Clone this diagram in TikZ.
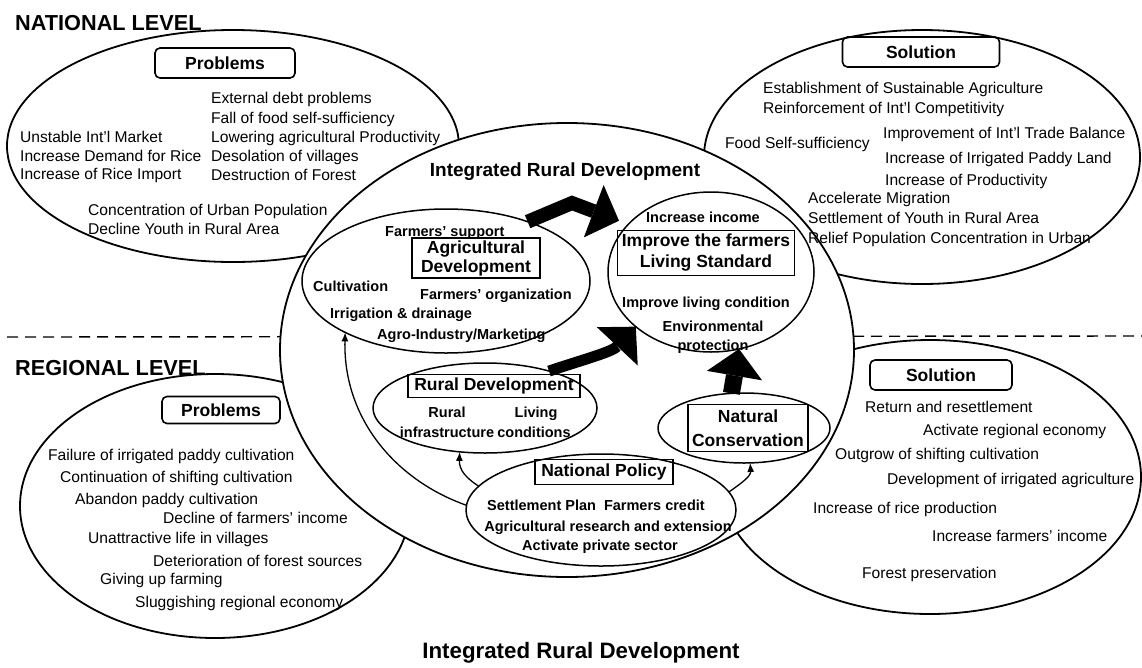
\documentclass[tikz,border=0pt]{standalone}
\usepackage{fontspec}
\setmainfont{Liberation Sans}
\usetikzlibrary{shapes.geometric,arrows.meta}
\newcommand\itemfont{\fontsize{15.6}{18}\selectfont}
\newcommand\midfont{\fontsize{14.5}{17}\selectfont\bfseries}
\newcommand\tagfont{\fontsize{17.5}{19}\selectfont\bfseries}
\newcommand\levelfont{\fontsize{21.7}{24}\selectfont\bfseries}
\newcommand\irdfont{\fontsize{19}{22}\selectfont\bfseries}
\newcommand\capfont{\fontsize{22.3}{25}\selectfont\bfseries}
\begin{document}
\begin{tikzpicture}[x=1pt,y=-1pt,
  bigell/.style={ellipse, draw, line width=1.8pt, inner sep=0pt, outer sep=0pt},
  innerell/.style={ellipse, draw, line width=1.5pt, inner sep=0pt, outer sep=0pt},
  tagbox/.style={draw, rounded corners=5pt, line width=1.6pt, font=\tagfont, inner sep=0pt, outer sep=0pt},
  sqbox/.style={draw, line width=1.5pt, font=\tagfont, inner sep=0pt, outer sep=0pt, align=center},
  item/.style={anchor=west, inner sep=0pt, font=\itemfont, text height=12pt, text depth=2pt},
  mid/.style={inner sep=0pt, font=\midfont, text height=10.5pt, text depth=2pt},
  midw/.style={mid, anchor=west},
  levelline/.style={line width=1.4pt, dash pattern=on 11pt off 7pt},
  thinarrow/.style={line width=1.3pt, -{Latex[length=9pt,width=7pt]}},
  blockarrow/.style={line width=#1, line join=miter, miter limit=20,
     -{Triangle[length=27pt,width=56pt,line width=0pt]}}
]
\fill[white] (0,0) rectangle (1142,667);
\useasboundingbox (0,0) rectangle (1142,667);

% ---- outer ellipses
\node[bigell, minimum width=452pt, minimum height=232pt] (natprob) at (233,146) {};
\node[bigell, minimum width=436pt, minimum height=254pt] (natsol) at (922,157) {};
\node[bigell, minimum width=390pt, minimum height=264pt] (regprob) at (215,506) {};
\node[bigell, minimum width=422pt, minimum height=274pt] (regsol) at (930,477) {};

% ---- level divider
\coordinate (divl) at (7,337);
\coordinate (divr) at (1142,336);
\draw[levelline] (divl) -- (divr);

% ---- central ellipse
\node[bigell, fill=white, minimum width=574pt, minimum height=454pt] (ird) at (567,350) {};

% ---- level titles
\node[anchor=west, inner sep=0pt, font=\levelfont] (natlev) at (15,23) {NATIONAL LEVEL};
\node[anchor=west, inner sep=0pt, font=\levelfont] (reglev) at (15,368) {REGIONAL LEVEL};
\node[inner sep=0pt, font=\irdfont] (irdtitle) at (565,172) {Integrated Rural Development};
\node[inner sep=0pt, font=\capfont] (caption) at (581,653) {Integrated Rural Development};

% ---- national problems
\node[tagbox, minimum width=140pt, minimum height=30pt] (npbox) at (225,63) {Problems};
\node[item] (np1) at (211,98) {External debt problems};
\node[item] (np2) at (211,118) {Fall of food self-sufficiency};
\node[item] (np3) at (211,137) {Lowering agricultural Productivity};
\node[item] (np4) at (211,156) {Desolation of villages};
\node[item] (np5) at (211,175) {Destruction of Forest};
\node[item] (np6) at (20,137) {Unstable Int'l Market};
\node[item] (np7) at (20,156) {Increase Demand for Rice};
\node[item] (np8) at (20,174) {Increase of Rice Import};
\node[item] (np9) at (88,210) {Concentration of Urban Population};
\node[item] (np10) at (88,229) {Decline Youth in Rural Area};

% ---- national solution
\node[tagbox, minimum width=157pt, minimum height=30pt] (nsbox) at (921,52) {Solution};
\node[item] (ns1) at (763,88) {Establishment of Sustainable Agriculture};
\node[item] (ns2) at (763,108) {Reinforcement of Int'l Competitivity};
\node[item] (ns3) at (883,133) {Improvement of Int'l Trade Balance};
\node[item] (ns4) at (725,143) {Food Self-sufficiency};
\node[item] (ns5) at (885,158) {Increase of Irrigated Paddy Land};
\node[item] (ns6) at (885,180) {Increase of Productivity};
\node[item] (ns7) at (808,198) {Accelerate Migration};
\node[item] (ns8) at (808,218) {Settlement of Youth in Rural Area};
\node[item] (ns9) at (808,238) {Relief Population Concentration in Urban};

% ---- regional problems
\node[tagbox, minimum width=118pt, minimum height=27pt] (rpbox) at (221,410) {Problems};
\node[item] (rp1) at (48,455) {Failure of irrigated paddy cultivation};
\node[item] (rp2) at (60,477) {Continuation of shifting cultivation};
\node[item] (rp3) at (75,499) {Abandon paddy cultivation};
\node[item] (rp4) at (163,518) {Decline of farmers' income};
\node[item] (rp5) at (88,538) {Unattractive life in villages};
\node[item] (rp6) at (153,561) {Deterioration of forest sources};
\node[item] (rp7) at (100,579) {Giving up farming};
\node[item] (rp8) at (135,602) {Sluggishing regional economy};

% ---- regional solution
\node[tagbox, minimum width=142pt, minimum height=30pt] (rsbox) at (941,375) {Solution};
\node[item] (rs1) at (865,407) {Return and resettlement};
\node[item] (rs2) at (923,430) {Activate regional economy};
\node[item] (rs3) at (835,454) {Outgrow of shifting cultivation};
\node[item] (rs4) at (887,479) {Development of irrigated agriculture};
\node[item] (rs5) at (813,508) {Increase of rice production};
\node[item] (rs6) at (932,536) {Increase farmers' income};
\node[item] (rs7) at (862,573) {Forest preservation};

% ---- inner ellipses
\node[innerell, minimum width=288pt, minimum height=144pt] (agri) at (446,281) {};
\node[innerell, minimum width=206pt, minimum height=160pt] (imp) at (711,272) {};
\node[innerell, minimum width=224pt, minimum height=90pt] (rural) at (485,408) {};
\node[innerell, minimum width=172pt, minimum height=70pt] (nat) at (744,428) {};
\node[innerell, minimum width=270pt, minimum height=112pt] (pol) at (601,510) {};

% agricultural development
\node[sqbox, minimum width=128pt, minimum height=40pt] (agbox) at (476,258) {Agricultural\\Development};
\node[midw] (ag1) at (385,232) {Farmers' support};
\node[midw] (ag2) at (313,287) {Cultivation};
\node[midw] (ag3) at (420,295) {Farmers' organization};
\node[midw] (ag4) at (330,314) {Irrigation \& drainage};
\node[midw] (ag5) at (377,335) {Agro-Industry/Marketing};

% improve living standard
\node[mid] (im1) at (703,218) {Increase income};
\node[sqbox, minimum width=177pt, minimum height=45pt] (impbox) at (706,253) {Improve the farmers\\[2pt]Living Standard};
\node[mid] (im2) at (706,303) {Improve living condition};
\node[mid] (im3) at (713,327) {Environmental};
\node[mid] (im4) at (713,346) {protection};

% rural development
\node[sqbox, minimum width=172pt, minimum height=23pt] (rubox) at (494,386) {Rural Development};
\node[mid] (ru1) at (447,413) {Rural};
\node[mid] (ru2) at (536,413) {Living};
\node[mid] (ru3) at (447,433) {infrastructure};
\node[mid] (ru4) at (534,433) {conditions};

% natural conservation
\node[sqbox, minimum width=120pt, minimum height=47pt] (natbox) at (748,428) {Natural\\[5pt]Conservation};

% national policy
\node[sqbox, minimum width=138pt, minimum height=25pt] (polbox) at (604,472) {National Policy};
\node[mid] (po1) at (596,506) {Settlement Plan\ \ Farmers credit};
\node[mid] (po2) at (608,527) {Agricultural research and extension};
\node[mid] (po3) at (600,546) {Activate private sector};

% ---- thin arrows from national policy
\draw[thinarrow] (pol.178) .. controls (395,480) and (343,418) .. (agri.207);
\draw[thinarrow] (pol.169) .. controls (466,478) and (459,470) .. (rural.240);
\draw[thinarrow] (pol.8) .. controls (743,482) and (751,476) .. (nat.280);

% ---- block arrows to improve living standard
\draw[blockarrow=14pt, shorten >=10pt] (agri.36) -- (572,203) -- (imp.150);
\draw[blockarrow=11pt] (rural.30) .. controls (582,360) and (612,352) .. (imp.216);
\draw[blockarrow=17pt] (nat.110) -- (imp.290);
\end{tikzpicture}
\end{document}
